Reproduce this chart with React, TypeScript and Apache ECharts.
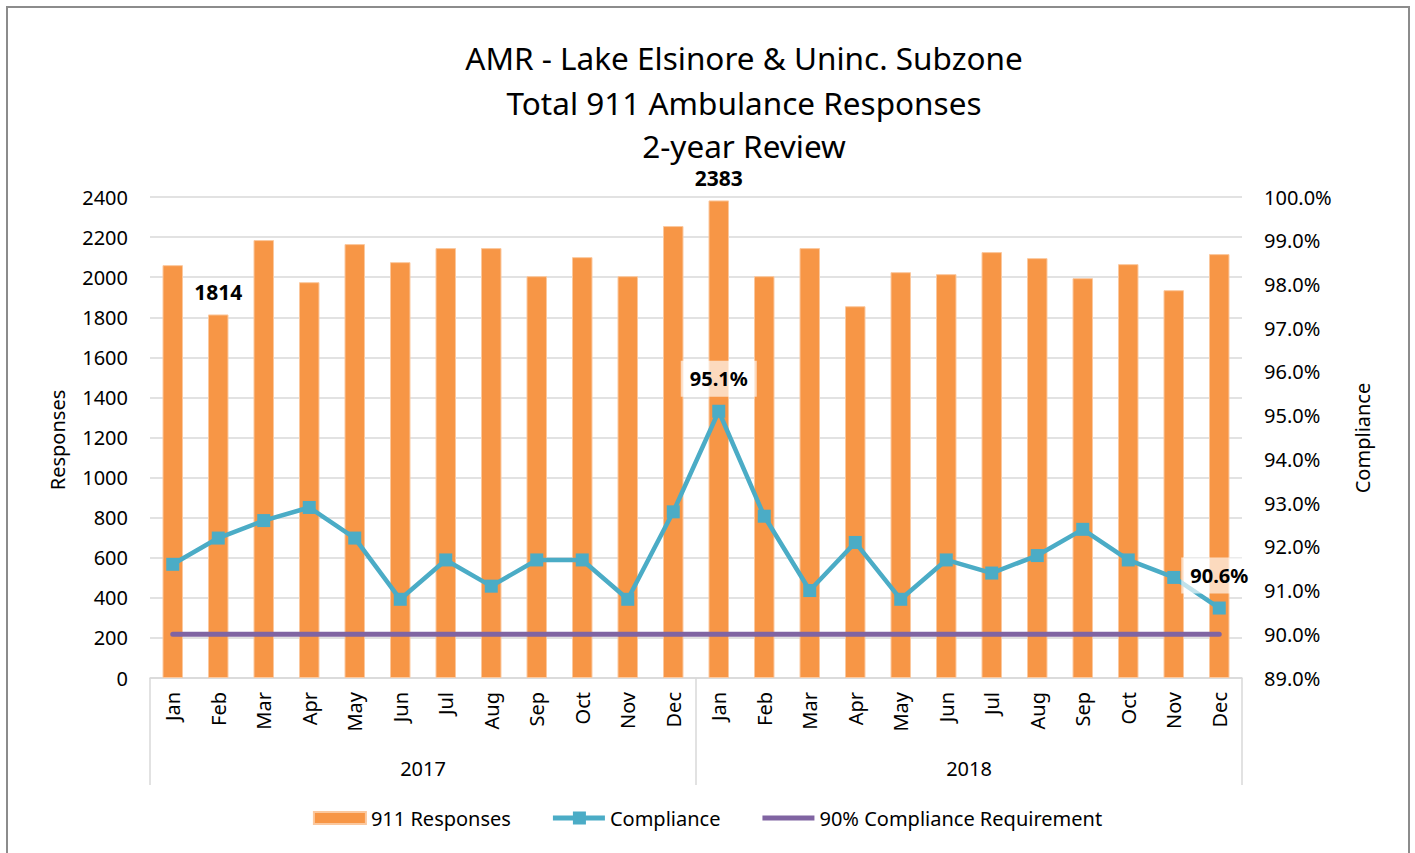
import React, { useEffect, useRef } from "react";
import * as echarts from "echarts";

const months = ["Jan", "Feb", "Mar", "Apr", "May", "Jun", "Jul", "Aug", "Sep", "Oct", "Nov", "Dec",
  "Jan", "Feb", "Mar", "Apr", "May", "Jun", "Jul", "Aug", "Sep", "Oct", "Nov", "Dec"];
const years = ["2017", "2018"];
const responses = [2060, 1814, 2185, 1975, 2165, 2075, 2145, 2145, 2005, 2100, 2005, 2255,
  2383, 2005, 2145, 1855, 2025, 2015, 2125, 2095, 1995, 2065, 1935, 2115];
const compliance = [91.6, 92.2, 92.6, 92.9, 92.2, 90.8, 91.7, 91.1, 91.7, 91.7, 90.8, 92.8,
  95.1, 92.7, 91.0, 92.1, 90.8, 91.7, 91.4, 91.8, 92.4, 91.7, 91.3, 90.6];
const requirement = [90, 90, 90, 90, 90, 90, 90, 90, 90, 90, 90, 90,
  90, 90, 90, 90, 90, 90, 90, 90, 90, 90, 90, 90];
const labeledBars = [1, 12];
const labeledPoints = [12, 23];
const titleLines = ["AMR - Lake Elsinore & Uninc. Subzone", "Total 911 Ambulance Responses", "2-year Review"];
const titleY = [57, 102, 145];

const FONT = "'Noto Sans', sans-serif";

export default function App() {
  const ref = useRef<HTMLDivElement>(null);
  useEffect(() => {
    const chart = echarts.init(ref.current!, null, { renderer: "svg" });
    const barData = responses.map((v, i) =>
      labeledBars.includes(i)
        ? { value: v, label: { show: true, position: "top", distance: 12, fontFamily: FONT, fontSize: 21, fontWeight: "bold", color: "#000" } }
        : v
    );
    const lineData = compliance.map((v, i) =>
      labeledPoints.includes(i)
        ? {
            value: v,
            label: {
              show: true, position: "top", distance: 8, fontFamily: FONT, fontSize: 20, fontWeight: "bold", color: "#000",
              backgroundColor: "rgba(255,255,255,0.65)", padding: [8, 9], formatter: (p: any) => p.value.toFixed(1) + "%",
            },
          }
        : v
    );
    const titleGraphics = titleLines.map((t, i) => ({
      type: "text",
      x: 744,
      y: titleY[i],
      silent: true,
      style: { text: t, fontFamily: FONT, fontSize: 31.5, fill: "#000", textAlign: "center", textVerticalAlign: "middle" },
    }));
    chart.setOption({
      animation: false,
      textStyle: { fontFamily: FONT },
      graphic: [
        { type: "rect", silent: true, z: -1, shape: { x: 7, y: 7, width: 1402, height: 880 }, style: { fill: "none", stroke: "#8c8c8c", lineWidth: 2 } },
        ...titleGraphics,
        { type: "text", x: 57, y: 440, rotation: Math.PI / 2, style: { text: "Responses", fontFamily: FONT, fontSize: 20, fill: "#000", textAlign: "center", textVerticalAlign: "middle" } },
        { type: "text", x: 1362, y: 438, rotation: Math.PI / 2, style: { text: "Compliance", fontFamily: FONT, fontSize: 20, fill: "#000", textAlign: "center", textVerticalAlign: "middle" } },
      ],
      legend: {
        bottom: 20,
        left: "center",
        itemWidth: 52,
        itemHeight: 13,
        itemGap: 42,
        textStyle: { fontFamily: FONT, fontSize: 20, color: "#000" },
        data: [
          { name: "911 Responses", icon: "path://M0,0H52V12H0Z" },
          { name: "Compliance", icon: "path://M0,4H20V0H33V4H52V9H33V13H20V9H0Z" },
          { name: "90% Compliance Requirement", icon: "path://M0,0H52V5H0Z" },
        ],
      },
      grid: { left: 150, right: 173, top: 197, bottom: 175 },
      xAxis: [
        {
          type: "category",
          data: months,
          position: "bottom",
          offset: 0,
          axisLine: { show: true, lineStyle: { color: "#d9d9d9", width: 1.5 } },
          axisTick: { show: false },
          axisLabel: { rotate: 90, margin: 14, fontFamily: FONT, fontSize: 20, color: "#000", interval: 0 },
        },
        {
          type: "category",
          data: years,
          position: "bottom",
          offset: 0,
          axisLine: { show: false },
          axisTick: { show: true, length: 107, lineStyle: { color: "#d9d9d9", width: 1.5 } },
          axisLabel: { margin: 80, fontFamily: FONT, fontSize: 20, color: "#000" },
        },
      ],
      yAxis: [
        {
          type: "value",
          min: 0,
          max: 2400,
          interval: 200,
          axisLine: { show: false },
          axisTick: { show: false },
          splitLine: { lineStyle: { color: "#d9d9d9", width: 1.5 } },
          axisLabel: { margin: 22, fontFamily: FONT, fontSize: 20, color: "#000", formatter: (v: number) => String(v) },
        },
        {
          type: "value",
          min: 89,
          max: 100,
          interval: 1,
          axisLine: { show: false },
          axisTick: { show: false },
          splitLine: { show: false },
          axisLabel: { margin: 22, fontFamily: FONT, fontSize: 20, color: "#000", formatter: (v: number) => v.toFixed(1) + "%" },
        },
      ],
      series: [
        {
          name: "911 Responses",
          type: "bar",
          xAxisIndex: 0,
          yAxisIndex: 0,
          data: barData,
          barCategoryGap: "55%",
          itemStyle: { color: "#F79646", borderColor: "#fbc89e", borderWidth: 1 },
        },
        {
          name: "90% Compliance Requirement",
          type: "line",
          xAxisIndex: 0,
          yAxisIndex: 1,
          data: requirement,
          symbol: "none",
          lineStyle: { color: "#8064A2", width: 5, cap: "round" },
          itemStyle: { color: "#8064A2" },
          z: 3,
        },
        {
          name: "Compliance",
          type: "line",
          xAxisIndex: 0,
          yAxisIndex: 1,
          data: lineData,
          symbol: "rect",
          symbolSize: 13,
          lineStyle: { color: "#4BACC6", width: 4.5 },
          itemStyle: { color: "#4BACC6" },
          z: 4,
        },
      ],
    });
    return () => chart.dispose();
  }, []);
  return <div ref={ref} style={{ position: "absolute", left: 0, top: 0, width: 1415, height: 853 }} />;
}
